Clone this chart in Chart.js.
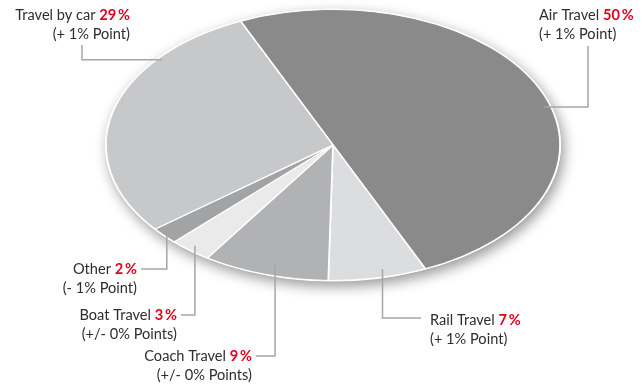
<!DOCTYPE html>
<html>
<head>
<meta charset="utf-8">
<script src="https://cdn.jsdelivr.net/npm/chart.js@4"></script>
<style>
  html, body { margin: 0; padding: 0; background: #fff; }
  #wrap { width: 643px; height: 384px; }
</style>
</head>
<body>
<div id="wrap"><canvas id="travelChart" width="643" height="384"></canvas></div>
<script>
// share of trips by mode of transport, change vs. previous year
const categories = ['Air Travel', 'Rail Travel', 'Coach Travel', 'Boat Travel', 'Other', 'Travel by car'];
const shares = [50, 7, 9, 3, 2, 29];
const changes = ['(+ 1% Point)', '(+ 1% Point)', '(+/- 0% Points)', '(+/- 0% Points)', '(- 1% Point)', '(+ 1% Point)'];

const sliceColours = ['#8a8a8b', '#dcddde', '#b1b2b4', '#e9eae9', '#a2a3a5', '#c7c8ca'];

// pie is squashed into an ellipse: vertical radius is the chart radius, x gets stretched
const RX = 227;
const RY = 135.5;

// label boxes + leader lines (frac/r = where the line touches its slice)
const labelLayout = [
  { x: 539, y: 15,  align: 'left',  frac: 0.54, r: 0.97, leader: 'fromLabel', lx: 588, ly: 46 },
  { x: 430, y: 320, align: 'left',  frac: 0.42, r: 0.94, leader: 'fromSlice', lx: 421, ly: 318 },
  { x: 252, y: 356, align: 'right', frac: 0.46, r: 0.92, leader: 'fromSlice', lx: 256, ly: 356 },
  { x: 177, y: 315, align: 'right', frac: 0.53, r: 0.96, leader: 'fromSlice', lx: 181, ly: 315 },
  { x: 137, y: 269, align: 'right', frac: 0.64, r: 0.97, leader: 'fromSlice', lx: 141, ly: 269 },
  { x: 130, y: 15,  align: 'right', frac: 0.75, r: 0.98, leader: 'fromLabel', lx: 82,  ly: 45 }
];

const FONT = 'Lato, "Open Sans", sans-serif';
const SIZE = '14.6px ';
const TEXT_COL = '#2e2e2e';
const RED = '#e2001a';
const LINE_COL = '#a6a6a6';

const ellipsePlugin = {
  id: 'ellipse',
  beforeDatasetsDraw(chart) {
    const arc = chart.getDatasetMeta(0).data[0];
    const ctx = chart.ctx;
    // soft drop shadow under the whole pie
    ctx.save();
    ctx.shadowColor = 'rgba(0,0,0,0.4)';
    ctx.shadowBlur = 13;
    ctx.shadowOffsetX = 3;
    ctx.shadowOffsetY = 5;
    ctx.fillStyle = '#fff';
    ctx.beginPath();
    ctx.ellipse(arc.x, arc.y, RX + 1, RY + 1, 0, 0, Math.PI * 2);
    ctx.fill();
    ctx.restore();

    ctx.save();
    ctx.translate(arc.x, arc.y);
    ctx.scale(RX / RY, 1);
    ctx.translate(-arc.x, -arc.y);
  },
  afterDatasetsDraw(chart) {
    chart.ctx.restore();
  },
  afterDraw(chart) {
    const ctx = chart.ctx;
    const arcs = chart.getDatasetMeta(0).data;
    ctx.save();
    ctx.textBaseline = 'middle';
    arcs.forEach((arc, i) => {
      const L = labelLayout[i];
      const a = arc.startAngle + L.frac * (arc.endAngle - arc.startAngle);
      const ax = arc.x + RX * L.r * Math.cos(a);
      const ay = arc.y + RY * L.r * Math.sin(a);

      // leader line
      ctx.strokeStyle = LINE_COL;
      ctx.lineWidth = 1.5;
      ctx.beginPath();
      if (L.leader === 'fromLabel') {
        ctx.moveTo(L.lx, L.ly);
        ctx.lineTo(L.lx, ay);
        ctx.lineTo(ax, ay);
      } else {
        ctx.moveTo(ax, ay);
        ctx.lineTo(ax, L.ly);
        ctx.lineTo(L.lx, L.ly);
      }
      ctx.stroke();

      // label: name + red share, change underneath
      const name = categories[i] + ' ';
      const pct = shares[i] + '\u2009%';
      ctx.font = SIZE + FONT;
      const nameW = ctx.measureText(name).width;
      ctx.font = 'bold ' + SIZE + FONT;
      const pctW = ctx.measureText(pct).width;
      const x0 = L.align === 'left' ? L.x : L.x - nameW - pctW;
      ctx.textAlign = 'left';
      ctx.font = SIZE + FONT;
      ctx.fillStyle = TEXT_COL;
      ctx.fillText(name, x0, L.y);
      ctx.font = 'bold ' + SIZE + FONT;
      ctx.fillStyle = RED;
      ctx.fillText(pct, x0 + nameW, L.y);

      ctx.font = SIZE + FONT;
      ctx.fillStyle = TEXT_COL;
      ctx.textAlign = L.align;
      ctx.fillText(changes[i], L.x, L.y + 19);
    });
    ctx.restore();
  }
};

new Chart(document.getElementById('travelChart'), {
  type: 'pie',
  data: {
    labels: categories,
    datasets: [{
      data: shares,
      backgroundColor: sliceColours,
      borderColor: '#ffffff',
      borderWidth: 1,
      hoverOffset: 0,
      radius: RY,
      clip: false
    }]
  },
  options: {
    responsive: false,
    animation: false,
    events: [],
    rotation: -24,
    layout: { padding: { top: 9.5, bottom: 103.5, left: 100, right: 77 } },
    plugins: {
      legend: { display: false },
      tooltip: { enabled: false }
    }
  },
  plugins: [ellipsePlugin]
});
</script>
</body>
</html>
